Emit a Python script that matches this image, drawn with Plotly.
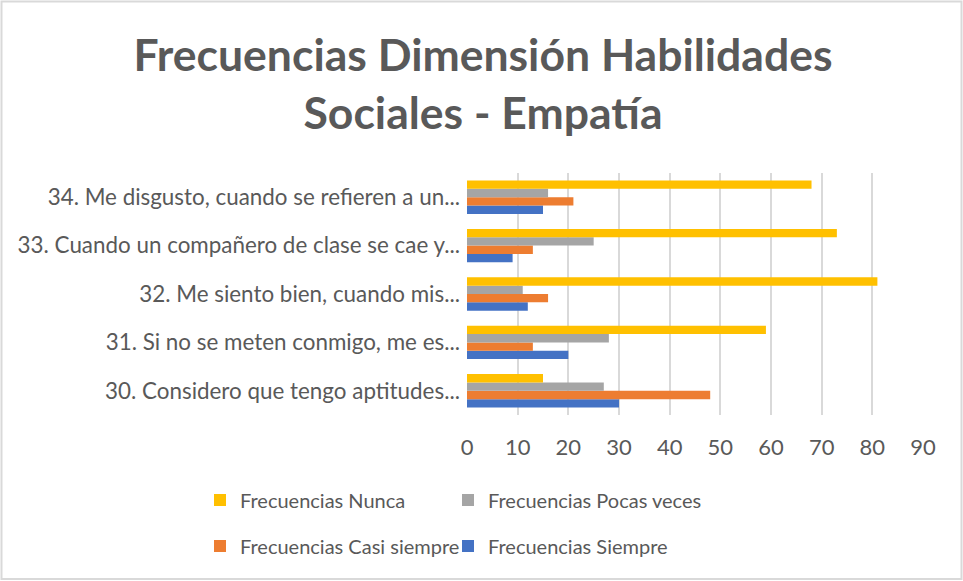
import plotly.graph_objects as go

# Survey items (bottom to top on the category axis)
items = [
    "30. Considero que tengo aptitudes...",
    "31. Si no se meten conmigo, me es...",
    "32. Me siento bien, cuando mis...",
    "33. Cuando un compañero de clase se cae y...",
    "34. Me disgusto, cuando se refieren a un...",
]

# Answer counts per item, same order as `items`
nunca = [15, 59, 81, 73, 68]
pocas_veces = [27, 28, 11, 25, 16]
casi_siempre = [48, 13, 16, 13, 21]
siempre = [30, 20, 12, 9, 15]

x_ticks = [0, 10, 20, 30, 40, 50, 60, 70, 80, 90]

W, H = 963, 581
ML, MR, MT, MB = 467, 40, 173, 166
PW, PH = W - ML - MR, H - MT - MB

def px(xp):
    return (xp - ML) / PW

def py(yp):
    return (H - MB - yp) / PH

FONT = "Lato"
GRAY = "#595959"

fig = go.Figure()

# Plotly stacks horizontal group members bottom-up, so the last trace sits on top.
# Each series gets its own legend box so the 2x2 key can be placed freely.
series = [
    ("Frecuencias Siempre", siempre, "#4472C4", "legend4"),
    ("Frecuencias Casi siempre", casi_siempre, "#ED7D31", "legend3"),
    ("Frecuencias Pocas veces", pocas_veces, "#A5A5A5", "legend2"),
    ("Frecuencias Nunca", nunca, "#FFC000", "legend"),
]
for name, vals, color, leg in series:
    fig.add_trace(go.Bar(
        y=items, x=vals, name=name, orientation="h",
        marker=dict(color=color, line=dict(width=0)),
        legend=leg,
    ))

legend_common = dict(
    orientation="h", xanchor="left", yanchor="middle",
    font=dict(family=FONT, size=20, color=GRAY),
    bgcolor="rgba(0,0,0,0)", itemwidth=30,
)
col1, col2 = 200, 448
row1, row2 = 500, 546

fig.update_layout(
    width=W, height=H,
    margin=dict(l=ML, r=MR, t=MT, b=MB),
    paper_bgcolor="white", plot_bgcolor="white",
    barmode="group", bargap=0.31, bargroupgap=0,
    title=dict(
        text="Frecuencias Dimensión Habilidades<br>Sociales - Empatía",
        xref="container", x=483 / W, xanchor="center",
        yref="container", y=1 - 71 / H, yanchor="middle",
        font=dict(family=FONT, size=44.5, color=GRAY, weight="bold"),
    ),
    xaxis=dict(
        range=[0, 90], tickvals=x_ticks, showgrid=True,
        gridcolor="#D9D9D9", gridwidth=1.5, zeroline=False, showline=False,
        ticks="", tickfont=dict(family=FONT, size=22, color=GRAY),
        ticklabelstandoff=17, fixedrange=True,
    ),
    yaxis=dict(
        type="category", categoryorder="array", categoryarray=items,
        showgrid=False, zeroline=False, showline=False, ticks="",
        tickfont=dict(family=FONT, size=22.4, color=GRAY),
        ticklabelstandoff=6, fixedrange=True,
    ),
    legend=dict(x=px(col1), y=py(row1), **legend_common),
    legend2=dict(x=px(col2), y=py(row1), **legend_common),
    legend3=dict(x=px(col1), y=py(row2), **legend_common),
    legend4=dict(x=px(col2), y=py(row2), **legend_common),
    showlegend=True,
    shapes=[dict(
        type="rect", xref="paper", yref="paper",
        x0=px(1.5), x1=px(961.5), y0=py(579), y1=py(1.5),
        line=dict(color="#D9D9D9", width=2), fillcolor="rgba(0,0,0,0)",
        layer="below",
    )],
)

fig.write_html("out.html")
